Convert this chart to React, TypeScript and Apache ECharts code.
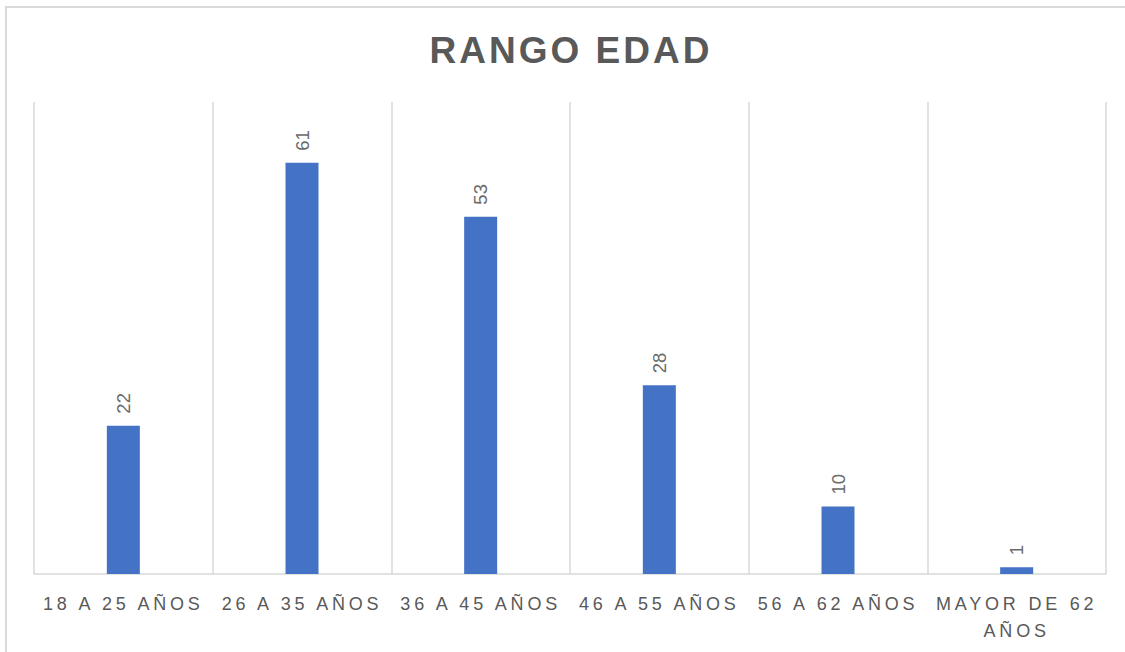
import React, { useEffect, useRef } from "react";
import * as echarts from "echarts";

const categories = [
  "18 A 25 AÑOS",
  "26 A 35 AÑOS",
  "36 A 45 AÑOS",
  "46 A 55 AÑOS",
  "56 A 62 AÑOS",
  "MAYOR DE 62 AÑOS",
];
const values = [22, 61, 53, 28, 10, 1];
const titleText = "RANGO EDAD";

export default function App() {
  const ref = useRef<HTMLDivElement>(null);
  useEffect(() => {
    if (!ref.current) return;
    const chart = echarts.init(ref.current, undefined, { renderer: "svg" });
    chart.setOption({
      animation: false,
      backgroundColor: "#ffffff",
      grid: { left: 34, right: 19, top: 102, bottom: 78, containLabel: false },
      graphic: [
        {
          type: "rect",
          shape: { x: 6, y: 7, width: 1200, height: 700 },
          style: { fill: "none", stroke: "#d9d9d9", lineWidth: 2 },
          silent: true,
        },
        {
          type: "text",
          x: 571,
          y: 50,
          style: {
            text: titleText,
            fill: "#595959",
            font: "bold 37px 'Liberation Sans', Arial, sans-serif",
            textAlign: "center",
            textVerticalAlign: "middle",
          },
        },
      ],
      xAxis: {
        type: "category",
        data: categories,
        axisLine: { show: true, lineStyle: { color: "#d9d9d9", width: 1.5 } },
        axisTick: { show: false },
        splitLine: { show: true, lineStyle: { color: "#d9d9d9", width: 1.5 } },
        axisLabel: {
          color: "#595959",
          fontFamily: "'Liberation Sans', Arial, sans-serif",
          fontSize: 18,
          lineHeight: 27,
          margin: 16,
          interval: 0,
          formatter: (v: string) =>
            v.length > 14 ? v.replace(/ (\S+)$/, "\n$1") : v,
        },
      },
      yAxis: {
        type: "value",
        min: 0,
        max: 70,
        show: false,
        splitLine: { show: false },
      },
      series: [
        {
          type: "bar",
          data: values,
          barWidth: 33,
          itemStyle: { color: "#4472C4" },
          label: {
            show: true,
            position: "top",
            rotate: 90,
            align: "left",
            verticalAlign: "middle",
            distance: 12,
            color: "#6a6a6a",
            fontFamily: "'Liberation Sans', Arial, sans-serif",
            fontSize: 18.5,
          },
        },
      ],
    });
    return () => chart.dispose();
  }, []);
  return (
    <>
      <style>{`
        body { margin: 0; }
        text[style*="37px"] { letter-spacing: 3px; }
        text[style*="18px"] { letter-spacing: 3.8px; }
      `}</style>
      <div
        ref={ref}
        style={{ position: "absolute", left: 0, top: 0, width: 1125, height: 652 }}
      />
    </>
  );
}
